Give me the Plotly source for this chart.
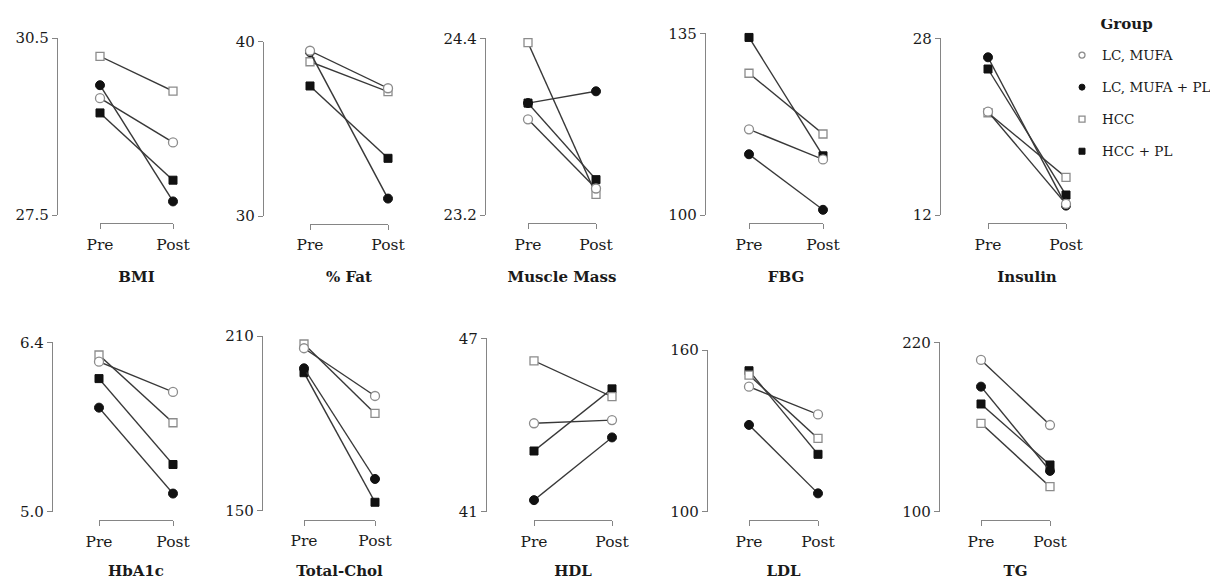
import plotly.graph_objects as go

# ---------------- data ----------------
groups = ["LC, MUFA", "LC, MUFA + PL", "HCC", "HCC + PL"]
timepoints = ["Pre", "Post"]

panel_titles = ["BMI", "% Fat", "Muscle Mass", "FBG", "Insulin",
                "HbA1c", "Total-Chol", "HDL", "LDL", "TG"]

# values per group in order of `groups`
bmi_pre = [29.48, 29.70, 30.19, 29.23]
bmi_post = [28.73, 27.73, 29.60, 28.09]
fat_pre = [39.48, 39.40, 38.85, 37.46]
fat_post = [37.33, 31.00, 37.13, 33.31]
muscle_pre = [23.85, 23.96, 24.37, 23.96]
muscle_post = [23.38, 24.04, 23.34, 23.44]
fbg_pre = [116.5, 111.7, 127.3, 134.2]
fbg_post = [110.7, 101.0, 115.6, 111.4]
insulin_pre = [21.36, 26.28, 21.26, 25.22]
insulin_post = [13.00, 12.85, 15.41, 13.81]
hba1c_pre = [6.24, 5.86, 6.295, 6.10]
hba1c_post = [5.99, 5.15, 5.735, 5.39]
tchol_pre = [205.8, 198.9, 207.25, 197.4]
tchol_post = [189.4, 160.9, 183.4, 152.9]
hdl_pre = [44.06, 41.40, 46.22, 43.10]
hdl_post = [44.17, 43.57, 44.98, 45.25]
ldl_pre = [146.4, 132.2, 150.7, 152.3]
ldl_post = [136.1, 106.8, 127.2, 121.3]
tg_pre = [207.5, 188.6, 162.6, 176.3]
tg_post = [161.4, 128.9, 117.7, 133.1]

pre_values = [bmi_pre, fat_pre, muscle_pre, fbg_pre, insulin_pre,
              hba1c_pre, tchol_pre, hdl_pre, ldl_pre, tg_pre]
post_values = [bmi_post, fat_post, muscle_post, fbg_post, insulin_post,
               hba1c_post, tchol_post, hdl_post, ldl_post, tg_post]

y_ranges = [[27.5, 30.5], [30, 40], [23.2, 24.4], [100, 135], [12, 28],
            [5.0, 6.4], [150, 210], [41, 47], [100, 160], [100, 220]]
y_ticklabels = [["27.5", "30.5"], ["30", "40"], ["23.2", "24.4"], ["100", "135"], ["12", "28"],
                ["5.0", "6.4"], ["150", "210"], ["41", "47"], ["100", "160"], ["100", "220"]]

# ---------------- layout (page-pixel geometry) ----------------
OFF = 8                      # page body margin offset
W, H = 1218 - OFF, 580 - OFF
yaxis_px = [57, 263, 485, 705, 940, 52, 262, 486, 707, 939]
pre_px = [100, 310, 528, 749, 988, 99, 304, 534, 749, 981]
post_px = [173, 388, 596, 823, 1066, 173, 375, 612, 818, 1050]
top_px = [38, 41.7, 38.3, 33.3, 38.3, 342.3, 336, 338.3, 350, 342.3]
bottom_px = [215, 216, 215, 215, 215, 511.7, 510.7, 511.7, 511.7, 511.7]
bracket_px = [223, 223.5, 223, 223, 223, 520, 519.5, 520, 520, 520]


def px_x(v):
    return (v - OFF) / W


def px_y(v):
    return 1 - (v - OFF) / H


FONT = "DejaVu Serif"
TXT = "#1a1a1a"
AXC = "#858585"
LINEC = "#383838"

marker_styles = {
    "LC, MUFA": dict(symbol="circle", color="white", line=dict(color="#8c8c8c", width=1.3)),
    "LC, MUFA + PL": dict(symbol="circle", color="#111111", line=dict(color="#111111", width=1)),
    "HCC": dict(symbol="square", color="white", line=dict(color="#8c8c8c", width=1.3)),
    "HCC + PL": dict(symbol="square", color="#111111", line=dict(color="#111111", width=1)),
}
marker_sizes = {"LC, MUFA": 9, "LC, MUFA + PL": 9, "HCC": 8, "HCC + PL": 8}

fig = go.Figure()
layout = {}
draw_order = [3, 2, 1, 0]

for i in range(10):
    n = i + 1
    xa = "x" if n == 1 else f"x{n}"
    ya = "y" if n == 1 else f"y{n}"
    for g in draw_order:
        name = groups[g]
        fig.add_trace(go.Scatter(
            x=timepoints, y=[pre_values[i][g], post_values[i][g]],
            mode="lines+markers", name=name, showlegend=False,
            legendgroup=name, cliponaxis=False,
            line=dict(color=LINEC, width=1.4),
            marker=dict(size=marker_sizes[name], **marker_styles[name]),
            xaxis=xa, yaxis=ya,
        ))
    xkey = "xaxis" if n == 1 else f"xaxis{n}"
    ykey = "yaxis" if n == 1 else f"yaxis{n}"
    layout[xkey] = dict(
        domain=[px_x(pre_px[i]), px_x(post_px[i])],
        anchor="free", position=px_y(bracket_px[i]),
        type="category", range=[0, 1], automargin=False,
        showline=True, linecolor=AXC, linewidth=1.3,
        ticks="outside", ticklen=5, tickcolor=AXC, tickwidth=1.3,
        showgrid=False, zeroline=False,
        tickfont=dict(family=FONT, size=15.5, color=TXT),
        ticklabelstandoff=2,
        title=dict(text=f"<b>{panel_titles[i]}</b>", standoff=18,
                   font=dict(family=FONT, size=15, color=TXT)),
        fixedrange=True,
    )
    layout[ykey] = dict(
        domain=[px_y(bottom_px[i]), px_y(top_px[i])],
        anchor="free", position=px_x(yaxis_px[i]), side="left",
        range=y_ranges[i], automargin=False,
        tickvals=y_ranges[i], ticktext=y_ticklabels[i],
        showline=True, linecolor=AXC, linewidth=1.3,
        ticks="outside", ticklen=5, tickcolor=AXC, tickwidth=1.3,
        showgrid=False, zeroline=False,
        tickfont=dict(family=FONT, size=15, color=TXT),
        fixedrange=True,
    )

# legend-only entries
for name in groups:
    fig.add_trace(go.Scatter(
        x=[None], y=[None], mode="markers", name=name,
        legendgroup=name, showlegend=True,
        marker=dict(size=6, **marker_styles[name]),
        xaxis="x", yaxis="y",
    ))

fig.update_layout(
    width=W, height=H,
    margin=dict(l=0, r=0, t=0, b=0, autoexpand=False),
    paper_bgcolor="white", plot_bgcolor="white",
    font=dict(family=FONT, size=15, color=TXT),
    showlegend=True,
    legend=dict(
        x=px_x(1062), y=px_y(19), xanchor="left", yanchor="top",
        title=dict(text="<span style='font-size:15px'><b>&nbsp;&nbsp;&nbsp;&nbsp;&nbsp;&nbsp;&nbsp;Group</b></span><br> ",
                   font=dict(family=FONT, size=8, color=TXT)),
        font=dict(family=FONT, size=13.5, color=TXT),
        tracegroupgap=11.5, bgcolor="rgba(0,0,0,0)",
        itemclick=False, itemdoubleclick=False,
    ),
    **layout,
)

fig.write_html("out.html")
